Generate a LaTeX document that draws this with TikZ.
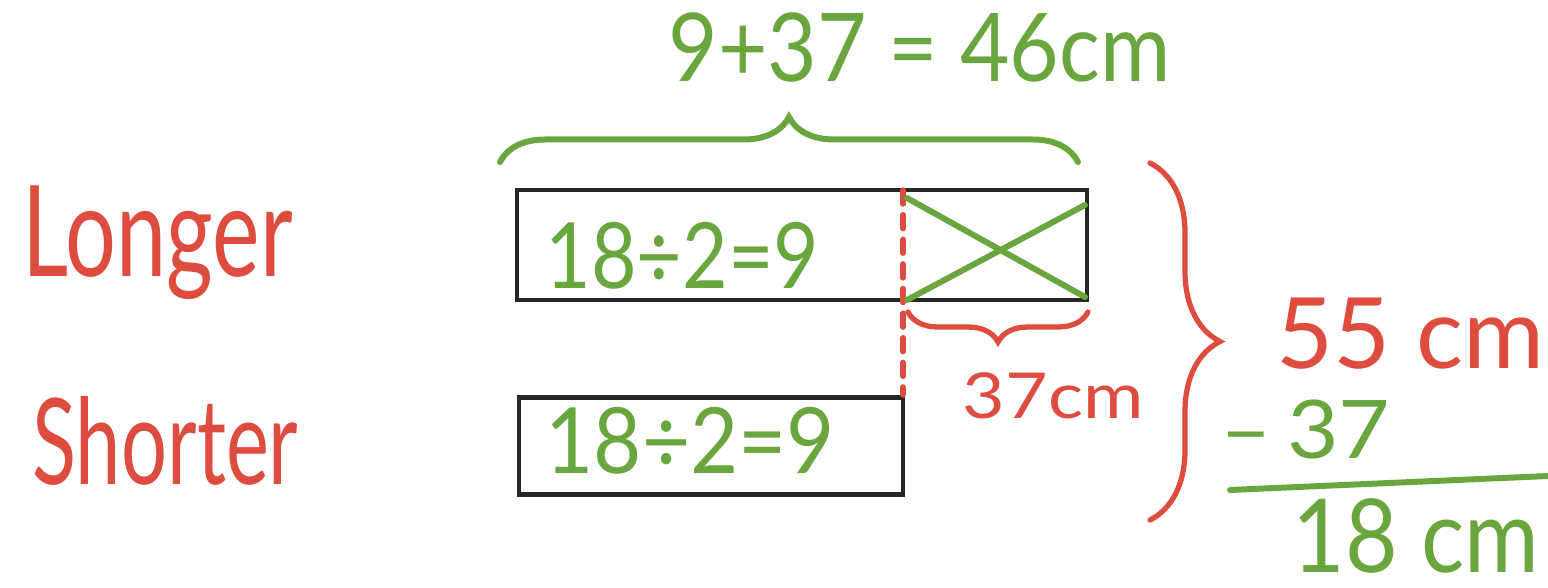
\documentclass[tikz,border=0pt]{standalone}
\usepackage{fontspec}
\setmainfont{Lato}
\usepackage{tikz}
\usetikzlibrary{positioning,decorations.pathreplacing}

\definecolor{penred}{RGB}{222,76,64}
\definecolor{pengreen}{RGB}{106,166,62}

\begin{document}
\begin{tikzpicture}[x=0.01cm, y=-0.01cm,
  bar/.style={draw=black!85, line width=1.2pt, inner sep=0pt},
  redtxt/.style={text=penred, inner sep=0pt, anchor=base west, transform shape},
  greentxt/.style={text=pengreen, inner sep=0pt, anchor=base west, transform shape},
  greenpen/.style={draw=pengreen, line width=1.7pt, line cap=round},
  redpen/.style={draw=penred, line width=1.5pt, line cap=round},
  bracepen/.style={decorate, decoration={brace, amplitude=#1}}]
\useasboundingbox (0,0) rectangle (1548,588);
% the two bars
\node[bar, minimum width=5.7cm, minimum height=1.1cm] (longbar) at (802,245) {};
\node[bar, minimum width=3.84cm, minimum height=0.97cm] (shortbar) at (711,446) {};
% labels on the left
\node[redtxt, font=\fontsize{36}{40}\selectfont, xscale=0.71] (longer) at (22,277) {Longer};
\node[redtxt, font=\fontsize{34}{40}\selectfont, xscale=0.68] (shorter) at (32,485) {Shorter};
% equations in the bars
\node[greentxt, font=\fontsize{26}{30}\selectfont, xscale=0.86] (longeq) at (545,288) {18÷2=9};
\node[greentxt, font=\fontsize{26}{30}\selectfont, xscale=0.91] (shorteq) at (545,473) {18÷2=9};
% cut mark and crossed part
\coordinate (cuttop) at (903,190);
\coordinate (cutend) at (903,395);
\draw[redpen, dash pattern=on 4pt off 3pt] (cuttop) -- (cutend);
\draw[greenpen] (907,198) -- (1085,297);
\draw[greenpen] (907,300) -- (1085,205);
% brace over the longer bar
\draw[greenpen, bracepen=0.45cm] (500,162) -- (1078,162);
\node[greentxt, font=\fontsize{27}{30}\selectfont, xscale=0.9] (topsum) at (668,82) {9+37 = 46cm};
% brace under the crossed part
\draw[redpen, bracepen=0.3cm] (1088,312) -- (908,312);
\node[redtxt, font=\fontsize{18}{20}\selectfont, xscale=1.16] (cutlen) at (962,418) {37cm};
% big brace and subtraction
\draw[redpen, bracepen=0.7cm] (1150,163) -- (1150,520);
\node[redtxt, font=\fontsize{28}{30}\selectfont] (total) at (1276,368) {55 cm};
\node[greentxt, font=\fontsize{23}{30}\selectfont, xscale=1.1] (minus) at (1220,458) {–\,37};
\draw[greenpen] (1230,490) -- (1548,476);
\node[greentxt, font=\fontsize{29}{30}\selectfont, xscale=0.89] (result) at (1292,572) {18 cm};
\end{tikzpicture}
\end{document}
